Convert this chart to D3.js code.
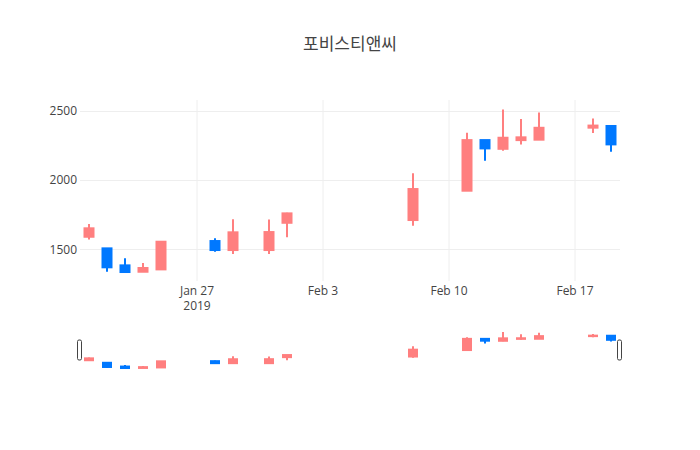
<!DOCTYPE html>
<html>
<head>
<meta charset="utf-8">
<script src="https://cdn.jsdelivr.net/npm/d3@7"></script>
<style>
  body { margin: 0; background: #fff; }
  text { font-family: "Open Sans", "Noto Sans CJK KR", sans-serif; fill: #444; }
</style>
</head>
<body>
<div id="plot"></div>
<script>
var title = "포비스티앤씨";

var dates = ["2019-01-21", "2019-01-22", "2019-01-23", "2019-01-24", "2019-01-25",
  "2019-01-28", "2019-01-29", "2019-01-31", "2019-02-01", "2019-02-08",
  "2019-02-11", "2019-02-12", "2019-02-13", "2019-02-14", "2019-02-15",
  "2019-02-18", "2019-02-19"];
var open  = [1591, 1507, 1384, 1338, 1355, 1560, 1495, 1495, 1692, 1712, 1924, 2290, 2227, 2290, 2293, 2380, 2392];
var high  = [1683, 1507, 1435, 1401, 1560, 1580, 1717, 1715, 1765, 2050, 2343, 2290, 2512, 2442, 2490, 2447, 2392];
var low   = [1572, 1338, 1331, 1338, 1350, 1483, 1466, 1466, 1587, 1671, 1924, 2141, 2213, 2259, 2293, 2342, 2206];
var close = [1652, 1370, 1336, 1365, 1555, 1495, 1623, 1625, 1760, 1936, 2290, 2230, 2307, 2310, 2379, 2395, 2259];

var yTicks = [1500, 2000, 2500];
var xTicks = ["2019-01-27", "2019-02-03", "2019-02-10", "2019-02-17"];
var xRange = ["2019-01-20T12:00:00Z", "2019-02-19T12:00:00Z"];
var yRange = [1271, 2580];

var upColor = "#ff7f7f", downColor = "#0078ff";

var W = 700, H = 450;
var margin = {left: 80, right: 80, top: 100};
var mainBottom = 281;
var slider = {top: 330, bottom: 370};

var parse = function(s) { return new Date(s.length > 10 ? s : s + "T00:00:00Z"); };
var data = dates.map(function(d, i) {
  return {date: parse(d), o: open[i], h: high[i], l: low[i], c: close[i]};
});

var svg = d3.select("#plot").append("svg")
  .attr("width", W).attr("height", H);

var x = d3.scaleUtc()
  .domain(xRange.map(parse))
  .range([margin.left, W - margin.right]);

var y = d3.scaleLinear().domain(yRange).range([mainBottom, margin.top]);
var ys = d3.scaleLinear().domain(yRange).range([slider.bottom, slider.top]);

// grid
svg.append("g").selectAll("line").data(xTicks).enter().append("line")
  .attr("x1", function(d) { return x(parse(d)); })
  .attr("x2", function(d) { return x(parse(d)); })
  .attr("y1", margin.top).attr("y2", mainBottom)
  .attr("stroke", "#eee").attr("stroke-width", 1);

svg.append("g").selectAll("line").data(yTicks).enter().append("line")
  .attr("x1", margin.left).attr("x2", W - margin.right)
  .attr("y1", function(d) { return Math.round(y(d)) + 0.5; })
  .attr("y2", function(d) { return Math.round(y(d)) + 0.5; })
  .attr("stroke", "#eee").attr("stroke-width", 1);

// y labels
svg.append("g").selectAll("text").data(yTicks).enter().append("text")
  .attr("x", margin.left - 3)
  .attr("y", function(d) { return y(d); })
  .attr("dy", "0.35em")
  .attr("text-anchor", "end")
  .style("font-size", "12px")
  .text(function(d) { return d; });

// x labels
var fmt = d3.utcFormat("%b %-d");
var xl = svg.append("g").selectAll("text").data(xTicks).enter().append("text")
  .attr("x", function(d) { return x(parse(d)); })
  .attr("y", 295)
  .attr("text-anchor", "middle")
  .style("font-size", "12px");
xl.append("tspan").text(function(d) { return fmt(parse(d)); });
xl.filter(function(d, i) { return i === 0; }).append("tspan")
  .attr("x", function(d) { return x(parse(d)); })
  .attr("dy", 15)
  .text(function(d) { return d3.utcFormat("%Y")(parse(d)); });

// candles
function drawCandles(g, ys, bw) {
  var c = g.selectAll("g.candle").data(data).enter().append("g")
    .attr("class", "candle");
  c.append("line")
    .attr("x1", function(d) { return x(d.date); })
    .attr("x2", function(d) { return x(d.date); })
    .attr("y1", function(d) { return ys(d.h); })
    .attr("y2", function(d) { return ys(d.l); })
    .attr("stroke", function(d) { return d.c >= d.o ? upColor : downColor; })
    .attr("stroke-width", 2);
  c.append("rect")
    .attr("x", function(d) { return x(d.date) - bw / 2; })
    .attr("width", bw)
    .attr("y", function(d) { return ys(Math.max(d.o, d.c)) - 1; })
    .attr("height", function(d) { return Math.abs(ys(d.o) - ys(d.c)) + 2; })
    .attr("fill", function(d) { return d.c >= d.o ? upColor : downColor; });
}

drawCandles(svg.append("g"), y, 11);
drawCandles(svg.append("g"), ys, 10);

// range slider grabbers
var mid = (slider.top + slider.bottom) / 2;
svg.append("g").selectAll("rect").data(x.range()).enter().append("rect")
  .attr("x", function(d) { return d - 2.5; })
  .attr("y", mid - 10)
  .attr("width", 4).attr("height", 20)
  .attr("rx", 1.5)
  .attr("fill", "#fff")
  .attr("stroke", "#444")
  .attr("stroke-width", 1);

// title
svg.append("text")
  .attr("x", W / 2).attr("y", 50)
  .attr("text-anchor", "middle")
  .style("font-size", "17px")
  .text(title);
</script>
</body>
</html>
